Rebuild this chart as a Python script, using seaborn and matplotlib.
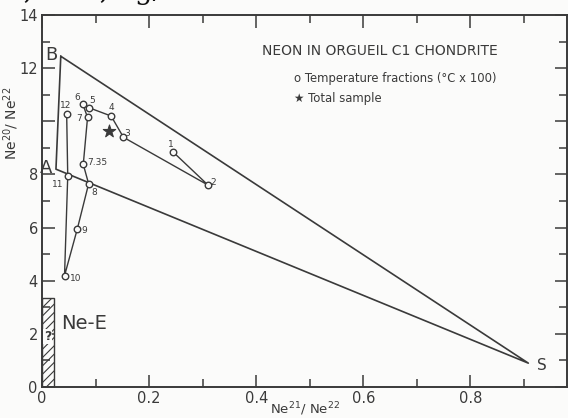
import matplotlib

matplotlib.use("Agg", force=True)
import matplotlib.pyplot as plt
import pandas as pd
import seaborn as sns
from matplotlib.patches import Rectangle
from matplotlib.ticker import MultipleLocator

# temperature fractions (x100 degC), in release order
step_labels = ["1", "2", "3", "4", "5", "6", "7", "7.35", "8", "9", "10", "11", "12"]
ne21_ne22 = [0.244, 0.310, 0.152, 0.129, 0.088, 0.076, 0.085, 0.077, 0.087, 0.066, 0.042, 0.048, 0.046]
ne20_ne22 = [8.86, 7.60, 9.40, 10.20, 10.51, 10.65, 10.15, 8.38, 7.65, 5.96, 4.19, 7.94, 10.27]

# total sample
total_x = [0.125]
total_y = [9.63]

# end members B, A and spallation S
end_names = ["B", "A", "S"]
end_x = [0.035, 0.026, 0.908]
end_y = [12.45, 8.20, 0.90]

# Ne-E box
nee_x = [0.0, 0.022]
nee_y = [0.0, 3.36]

# axis ticks (the 10 label is left out under the axis title)
x_ticks = [0, 0.2, 0.4, 0.6, 0.8]
x_ticklabels = ["0", "0.2", "0.4", "0.6", "0.8"]
y_ticks = [0, 2, 4, 6, 8, 10, 12, 14]
y_ticklabels = ["0", "2", "4", "6", "8", "", "12", "14"]

# label offsets in points for each fraction
label_offsets = {
    "1": (-1, 5), "2": (4, 2), "3": (3, 3), "4": (0, 6), "5": (2, 5), "6": (-4, 5),
    "7": (-6, -1), "7.35": (10, 1), "8": (4, -6), "9": (5, -1), "10": (8, -2),
    "11": (-7, -6), "12": (-1, 6),
}

ink = "#3a3a3a"
paper = "#fbfbfa"

sns.set_theme(style="ticks")
plt.rcParams["font.family"] = ["DejaVu Sans"]
plt.rcParams["hatch.linewidth"] = 0.8
plt.rcParams["hatch.color"] = ink

fig = plt.figure(figsize=(5.68, 4.18), dpi=100)
fig.patch.set_facecolor(paper)
ax = fig.add_axes([0.074, 0.074, 0.925, 0.89])
ax.set_facecolor(paper)

# mixing triangle B - S - A - B
tri = pd.DataFrame({
    "x": [end_x[0], end_x[2], end_x[1], end_x[0]],
    "y": [end_y[0], end_y[2], end_y[1], end_y[0]],
})
sns.lineplot(data=tri, x="x", y="y", sort=False, estimator=None, color=ink, lw=1.2, ax=ax)

steps = pd.DataFrame({"x": ne21_ne22, "y": ne20_ne22, "step": step_labels})
sns.lineplot(data=steps, x="x", y="y", sort=False, estimator=None, color=ink, lw=1.0, ax=ax)
sns.scatterplot(data=steps, x="x", y="y", marker="o", s=22, facecolor=paper,
                edgecolor=ink, linewidth=1.0, zorder=5, ax=ax)
for lab, x, y in zip(step_labels, ne21_ne22, ne20_ne22):
    ax.annotate(lab, (x, y), xytext=label_offsets[lab], textcoords="offset points",
                ha="center", va="center", fontsize=6.5, color=ink)

sns.scatterplot(x=total_x, y=total_y, marker="*", s=90, color=ink, edgecolor=ink, zorder=5, ax=ax)

for name, x, y in zip(end_names, end_x, end_y):
    if name == "S":
        ax.annotate(name, (x, y), xytext=(10, -2), textcoords="offset points",
                    ha="center", va="center", fontsize=11, color=ink)
    else:
        ax.annotate(name, (x, y), xytext=(-7, 1), textcoords="offset points",
                    ha="center", va="center", fontsize=13, color=ink)

ax.add_patch(Rectangle((nee_x[0], nee_y[0]), nee_x[1] - nee_x[0], nee_y[1] - nee_y[0],
                       facecolor="none", edgecolor=ink, hatch="////", lw=1.0, zorder=2))
ax.text(0.011, 1.9, "?", ha="center", va="center", fontsize=9, fontweight="bold", color=ink,
        zorder=6, bbox=dict(facecolor=paper, edgecolor="none", pad=0.5))
ax.text(0.036, 2.4, "Ne-E", ha="left", va="center", fontsize=14, color=ink)

# legend block written as text like the original
ax.text(0.41, 12.65, "NEON IN ORGUEIL C1 CHONDRITE", ha="left", va="center", fontsize=10, color=ink)
ax.text(0.47, 11.6, "o Temperature fractions (°C x 100)", ha="left", va="center", fontsize=8.4, color=ink)
ax.text(0.47, 10.85, "★ Total sample", ha="left", va="center", fontsize=8.4, color=ink)

ax.set_xlim(0, 0.981)
ax.set_ylim(0, 14)
ax.xaxis.set_minor_locator(MultipleLocator(0.1))
ax.yaxis.set_minor_locator(MultipleLocator(1))
ax.set_xticks(x_ticks)
ax.set_xticklabels(x_ticklabels)
ax.set_yticks(y_ticks)
ax.set_yticklabels(y_ticklabels)
ax.tick_params(which="both", direction="in", top=True, right=True, colors=ink,
               labelsize=10.5, labelcolor=ink, pad=3)
ax.tick_params(which="major", length=9, width=1.1)
ax.tick_params(which="minor", length=6, width=1.1)
for sp in ax.spines.values():
    sp.set_visible(True)
    sp.set_color(ink)
    sp.set_linewidth(1.4)

ax.set_xlabel("Ne$^{21}$/ Ne$^{22}$", fontsize=9.5, color=ink)
ax.set_ylabel("Ne$^{20}$/ Ne$^{22}$", fontsize=10, color=ink)
ax.yaxis.set_label_coords(-0.04, 0.71)
ax.xaxis.set_label_coords(0.5, -0.035)

# clipped line of the page text above the figure
fig.text(0.01, 1.02, "3,0 – 3,5 g/cm", ha="left", va="center", fontsize=20, color="#111111",
         family="DejaVu Serif")

fig.savefig("out.png", dpi=100, facecolor=fig.get_facecolor())
